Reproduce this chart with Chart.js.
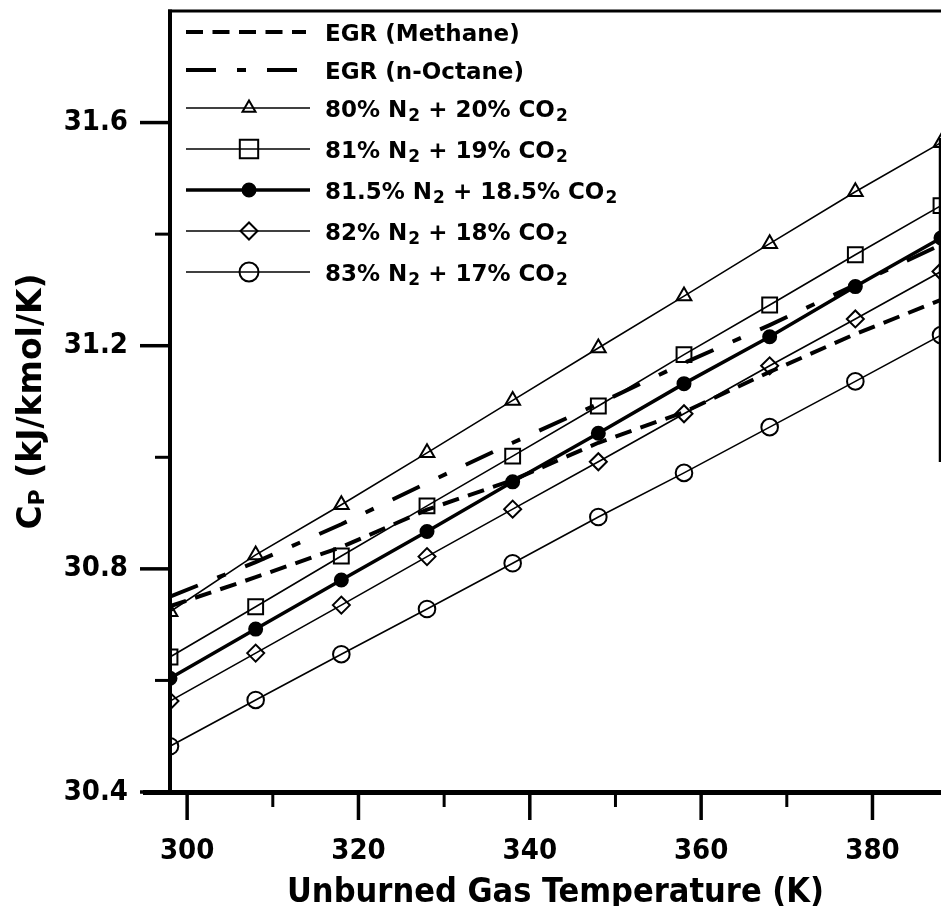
<!DOCTYPE html>
<html>
<head>
<meta charset="utf-8">
<script src="https://cdn.jsdelivr.net/npm/chart.js@4.4.1/dist/chart.umd.min.js"></script>
<style>
  html, body { margin: 0; padding: 0; background: #ffffff; }
  #wrap { width: 941px; height: 906px; position: relative; }
</style>
</head>
<body>
<div id="wrap"><canvas id="chart" width="941" height="906"></canvas></div>
<script>
// ---------------- data ----------------
const temperatures = [298, 308, 318, 328, 338, 348, 358, 368, 378, 388];
const egrMethane   = [30.733, 30.785, 30.839, 30.906, 30.959, 31.026, 31.081, 31.153, 31.221, 31.282];
const egrOctane    = [30.750, 30.812, 30.880, 30.954, 31.026, 31.096, 31.169, 31.237, 31.309, 31.381];
const mix80N2      = [30.723, 30.825, 30.915, 31.008, 31.102, 31.196, 31.289, 31.383, 31.476, 31.564];
const mix81N2      = [30.642, 30.732, 30.823, 30.913, 31.002, 31.092, 31.184, 31.273, 31.363, 31.451];
const mix815N2     = [30.604, 30.692, 30.780, 30.867, 30.956, 31.043, 31.132, 31.216, 31.306, 31.393];
const mix82N2      = [30.563, 30.649, 30.735, 30.822, 30.907, 30.992, 31.078, 31.164, 31.248, 31.333];
const mix83N2      = [30.482, 30.565, 30.647, 30.728, 30.810, 30.893, 30.972, 31.054, 31.136, 31.219];

const seriesNames = [
  'EGR (Methane)',
  'EGR (n-Octane)',
  '80% N₂ + 20% CO₂',
  '81% N₂ + 19% CO₂',
  '81.5% N₂ + 18.5% CO₂',
  '82% N₂ + 18% CO₂',
  '83% N₂ + 17% CO₂'
];

const xMajorTicks = [300, 320, 340, 360, 380];
const xMinorTicks = [310, 330, 350, 370];
const yMajorTicks = [30.4, 30.8, 31.2, 31.6];
const yMinorTicks = [30.6, 31.0, 31.4];

const xTitle = 'Unburned Gas Temperature (K)';
const yTitleParts = ['C', 'P', ' (kJ/kmol/K)'];

// ---------------- styling ----------------
const condFamily = "'DejaVu Sans Condensed', 'DejaVu Sans', sans-serif";
const boldFamily = "'DejaVu Sans', sans-serif";

function pts(values) {
  return temperatures.map((t, i) => ({ x: t, y: values[i] }));
}

const seriesStyles = [
  { borderWidth: 4, borderDash: [17, 9.5], pointStyle: false, pointRadius: 0 },
  { borderWidth: 4, borderDash: [30, 21, 9, 21], pointStyle: false, pointRadius: 0 },
  { borderWidth: 1.6, pointStyle: 'triangle', pointRadius: 8.5, filled: false, legendRadius: 7.5 },
  { borderWidth: 1.6, pointStyle: 'rect', pointRadius: 10.5, filled: false, legendRadius: 13 },
  { borderWidth: 3.5, pointStyle: 'circle', pointRadius: 6.5, filled: true, legendRadius: 6.5 },
  { borderWidth: 1.6, pointStyle: 'rectRot', pointRadius: 8.5, filled: false, legendRadius: 8.5 },
  { borderWidth: 1.6, pointStyle: 'circle', pointRadius: 8.3, filled: false, legendRadius: 9.5 }
];
const seriesValues = [egrMethane, egrOctane, mix80N2, mix81N2, mix815N2, mix82N2, mix83N2];

const datasets = seriesValues.map((vals, i) => {
  const s = seriesStyles[i];
  return {
    label: seriesNames[i],
    data: pts(vals),
    borderColor: '#000',
    borderWidth: s.borderWidth,
    borderDash: s.borderDash || [],
    borderCapStyle: 'butt',
    tension: 0,
    fill: false,
    pointStyle: s.pointStyle || 'circle',
    pointRadius: s.pointRadius,
    pointHoverRadius: s.pointRadius,
    pointBorderColor: '#000',
    pointBorderWidth: 2,
    pointBackgroundColor: s.filled ? '#000' : 'rgba(0,0,0,0)'
  };
});

// ---------------- helpers ----------------
function line(ctx, x1, y1, x2, y2, w) {
  ctx.lineWidth = w;
  ctx.beginPath();
  ctx.moveTo(x1, y1);
  ctx.lineTo(x2, y2);
  ctx.stroke();
}

function marker(ctx, style, x, y, r, filled) {
  ctx.beginPath();
  if (style === 'triangle') {
    ctx.moveTo(x, y - r);
    ctx.lineTo(x + 0.866 * r, y + 0.5 * r);
    ctx.lineTo(x - 0.866 * r, y + 0.5 * r);
    ctx.closePath();
  } else if (style === 'rect') {
    const h = r * Math.SQRT1_2;
    ctx.rect(x - h, y - h, 2 * h, 2 * h);
  } else if (style === 'rectRot') {
    ctx.moveTo(x - r, y);
    ctx.lineTo(x, y - r);
    ctx.lineTo(x + r, y);
    ctx.lineTo(x, y + r);
    ctx.closePath();
  } else {
    ctx.arc(x, y, r, 0, Math.PI * 2);
  }
  if (filled) ctx.fill();
  ctx.lineWidth = 2;
  ctx.stroke();
}

function drawRich(ctx, text, x, y, size) {
  const parts = text.split('₂');
  let cx = x;
  parts.forEach((p, i) => {
    ctx.font = `bold ${size}px ${boldFamily}`;
    ctx.fillText(p, cx, y);
    cx += ctx.measureText(p).width;
    if (i < parts.length - 1) {
      ctx.font = `bold ${Math.round(size * 0.75)}px ${boldFamily}`;
      ctx.fillText('2', cx + 1, y + 4);
      cx += ctx.measureText('2').width + 1;
    }
  });
}

const decorPlugin = {
  id: 'decor',
  afterDraw(chart) {
    const { ctx, chartArea: ca } = chart;
    const xs = chart.scales.x, ys = chart.scales.y;
    ctx.save();
    ctx.strokeStyle = '#000';
    ctx.fillStyle = '#000';
    ctx.lineCap = 'butt';
    ctx.setLineDash([]);

    // axes / frame
    line(ctx, ca.left, ca.top - 1.5, ca.left, ca.bottom + 2, 4);
    line(ctx, 143, ca.bottom + 0.5, chart.width, ca.bottom + 0.5, 5);
    line(ctx, ca.left - 2, ca.top, chart.width, ca.top, 3);
    line(ctx, 940, 138, 940, 462, 2.5);

    // tick marks
    yMajorTicks.forEach(v => { const p = ys.getPixelForValue(v); line(ctx, ca.left - 30, p, ca.left, p, 3.5); });
    yMinorTicks.forEach(v => { const p = ys.getPixelForValue(v); line(ctx, ca.left - 15, p, ca.left, p, 3); });
    xMajorTicks.forEach(v => { const p = xs.getPixelForValue(v); line(ctx, p, ca.bottom, p, ca.bottom + 28, 3.5); });
    xMinorTicks.forEach(v => { const p = xs.getPixelForValue(v); line(ctx, p, ca.bottom, p, ca.bottom + 15, 3); });

    // x title
    ctx.font = `bold 34px ${condFamily}`;
    ctx.textAlign = 'center';
    ctx.textBaseline = 'alphabetic';
    ctx.fillText(xTitle, (ca.left + ca.right) / 2, 902);

    // y title (rotated, with small P)
    ctx.save();
    ctx.translate(41, (ca.top + ca.bottom) / 2);
    ctx.rotate(-Math.PI / 2);
    ctx.textAlign = 'left';
    const bigF = `bold 33px ${boldFamily}`, smallF = `bold 22px ${boldFamily}`;
    ctx.font = bigF; const w0 = ctx.measureText(yTitleParts[0]).width;
    ctx.font = smallF; const w1 = ctx.measureText(yTitleParts[1]).width;
    ctx.font = bigF; const w2 = ctx.measureText(yTitleParts[2]).width;
    let tx = -(w0 + w1 + w2) / 2;
    ctx.font = bigF; ctx.fillText(yTitleParts[0], tx, 0); tx += w0;
    ctx.font = smallF; ctx.fillText(yTitleParts[1], tx, 3); tx += w1;
    ctx.font = bigF; ctx.fillText(yTitleParts[2], tx, 0);
    ctx.restore();

    // legend
    const rowsY = [32, 70, 108, 149, 190, 231, 272];
    const lx1 = 186, lx2 = 310, mx = 249, tx0 = 325;
    chart.data.datasets.forEach((ds, i) => {
      const s = seriesStyles[i];
      const y = rowsY[i];
      ctx.setLineDash(s.borderDash || []);
      const end = i === 0 ? 306 : (i === 1 ? 297 : lx2);
      line(ctx, lx1, y, end, y, s.borderWidth);
      ctx.setLineDash([]);
      if (s.pointStyle) marker(ctx, s.pointStyle, mx, y, s.legendRadius, s.filled);
      ctx.textAlign = 'left';
      ctx.textBaseline = 'alphabetic';
      drawRich(ctx, ds.label, tx0, y + 8.5, 23);
    });
    ctx.restore();
  }
};

new Chart(document.getElementById('chart'), {
  type: 'line',
  data: { datasets },
  plugins: [decorPlugin],
  options: {
    responsive: false,
    devicePixelRatio: 1,
    animation: false,
    events: [],
    layout: { autoPadding: false, padding: { top: 11, right: 0, bottom: 0, left: 0 } },
    plugins: { legend: { display: false }, tooltip: { enabled: false }, title: { display: false } },
    scales: {
      x: {
        type: 'linear',
        min: 298,
        max: 388,
        afterBuildTicks: s => { s.ticks = xMajorTicks.map(v => ({ value: v })); },
        afterFit: s => { s.height = 114; s.paddingLeft = 0; s.paddingRight = 0; },
        grid: { display: false, drawTicks: false },
        border: { display: false },
        ticks: {
          color: '#000',
          font: { family: condFamily, size: 29, weight: 'bold' },
          padding: 42,
          maxRotation: 0,
          autoSkip: false,
          callback: v => String(v)
        }
      },
      y: {
        type: 'linear',
        min: 30.4,
        max: 31.8,
        afterBuildTicks: s => { s.ticks = yMajorTicks.map(v => ({ value: v })); },
        afterFit: s => { s.width = 170; s.paddingTop = 0; s.paddingBottom = 0; },
        grid: { display: false, drawTicks: false },
        border: { display: false },
        ticks: {
          color: '#000',
          font: { family: condFamily, size: 29, weight: 'bold' },
          padding: 42,
          autoSkip: false,
          callback: v => Number(v).toFixed(1)
        }
      }
    }
  }
});
</script>
</body>
</html>
